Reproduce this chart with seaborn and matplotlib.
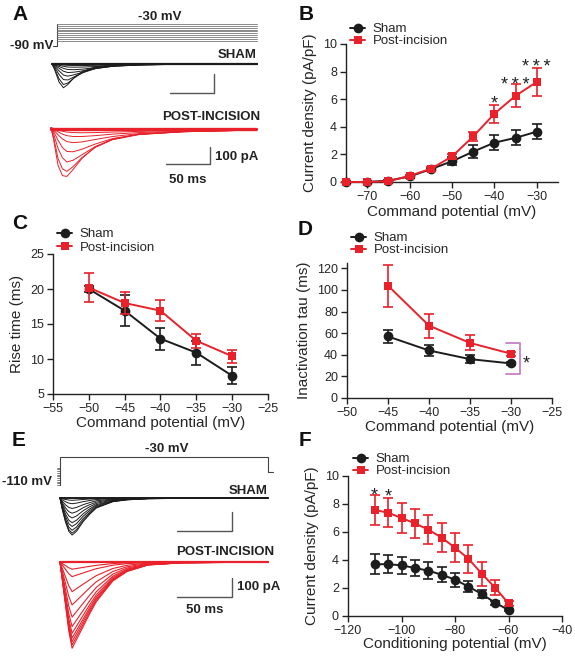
import numpy as np
import pandas as pd
import matplotlib
matplotlib.use("Agg")
import matplotlib.pyplot as plt
from matplotlib.lines import Line2D
import seaborn as sns

sns.set_theme(style="ticks")
plt.rcParams['font.family'] = ['Liberation Sans', 'DejaVu Sans']

BLACK = "#1c1c1c"
RED = "#e8212b"
GREY = "#555555"
THREE = "*\u2009*\u2009*"

# ---- B: current density vs command potential
cmd_b = [-75, -70, -65, -60, -55, -50, -45, -40, -35, -30]
sham_b = [0, 0, 0.1, 0.4, 0.93, 1.5, 2.2, 2.85, 3.2, 3.65]
sham_b_err = [0, 0, 0.05, 0.08, 0.12, 0.3, 0.45, 0.52, 0.55, 0.55]
post_b = [0, 0, 0.05, 0.45, 0.95, 1.85, 3.3, 4.95, 6.25, 7.25]
post_b_err = [0, 0, 0.04, 0.08, 0.12, 0.15, 0.35, 0.66, 0.85, 1.0]
stars_b = [(-40, 6.08, "*"), (-35, 7.44, THREE), (-30, 8.7, THREE)]

# ---- C: rise time
cmd_c = [-50, -45, -40, -35, -30]
sham_c = [20.0, 16.9, 12.9, 10.9, 7.6]
sham_c_err = [0.4, 2.2, 1.6, 1.7, 1.2]
post_c = [20.2, 18.0, 16.9, 12.6, 10.4]
post_c_err = [2.1, 1.6, 1.5, 1.0, 0.9]

# ---- D: inactivation tau
cmd_d = [-45, -40, -35, -30]
sham_d = [57, 44, 36, 32]
sham_d_err = [6.3, 5, 3.7, 1]
post_d = [104, 67, 51, 41]
post_d_err = [19.6, 11, 7, 2]
bracket_d = (-28.9, 22.5, 51)   # x, low, high
stars_d = [(-28.2, 36.5, "*")]

# ---- F: steady-state inactivation
cond_f = [-110, -105, -100, -95, -90, -85, -80, -75, -70, -65, -60]
sham_f = [3.7, 3.7, 3.62, 3.43, 3.24, 2.95, 2.6, 2.1, 1.57, 0.95, 0.43]
sham_f_err = [0.7, 0.65, 0.62, 0.6, 0.6, 0.55, 0.5, 0.42, 0.3, 0.15, 0.1]
post_f = [7.57, 7.38, 7.0, 6.62, 6.17, 5.6, 4.88, 4.1, 3.02, 2.02, 0.9]
post_f_err = [1.05, 1.05, 1.05, 1.05, 1.05, 1.05, 1.05, 1.0, 0.87, 0.55, 0.2]
stars_f = [(-110, 9.0, "*"), (-105, 8.9, "*")]

# ---- A: example traces (ms, pA), protocol (mV)
hold_a = -90
steps_a = [-75, -70, -65, -60, -55, -50, -45, -40, -35, -30]
step_len_a = 227
t_a = [0, 3, 8, 13, 18, 25, 35, 50, 70, 100, 150, 233]
sham_a_sweeps = [
    [0, -30, -95, -125, -108, -72, -38, -14, -5, -2, 0, 0],
    [0, -24, -78, -108, -100, -74, -44, -18, -7, -2, 0, 0],
    [0, -16, -55, -82, -84, -68, -46, -22, -9, -3, -1, 0],
    [0, -10, -36, -58, -64, -57, -43, -24, -11, -4, -1, 0],
    [0, -6, -22, -38, -45, -43, -36, -23, -12, -5, -1, 0],
    [0, -4, -13, -23, -29, -30, -27, -19, -11, -5, -1, 0],
    [0, -2, -7, -12, -16, -17, -16, -13, -8, -4, -1, 0],
    [0, -1, -3, -5, -7, -8, -8, -7, -5, -3, -1, 0],
]
post_a_sweeps = [
    [0, -70, -220, -280, -285, -245, -180, -112, -65, -36, -22, -12],
    [0, -55, -180, -240, -255, -228, -175, -115, -68, -38, -22, -12],
    [0, -35, -120, -175, -200, -190, -158, -110, -68, -38, -22, -12],
    [0, -20, -72, -115, -138, -140, -125, -95, -62, -37, -21, -12],
    [0, -12, -40, -64, -80, -86, -82, -68, -50, -33, -20, -11],
    [0, -7, -22, -36, -45, -50, -50, -45, -36, -27, -18, -10],
    [0, -4, -12, -19, -24, -27, -28, -27, -24, -20, -14, -9],
    [0, -2, -6, -9, -11, -13, -14, -14, -13, -12, -10, -7],
]

# ---- E: example traces, steady-state inactivation protocol
prepulse_e = [-110, -105, -100, -95, -90, -85, -80, -75, -70, -65, -60]
test_e = -30
after_e = -73
test_len_e = 189
t_e = [0, 2, 5, 8, 11, 15, 21, 27, 33, 48, 61, 80, 110, 189]
sham_e_shape = [0, -0.3, -0.65, -0.9, -1.0, -0.9, -0.64, -0.44, -0.27, -0.1, -0.05, -0.02, -0.01, 0]
sham_e_peaks = [195, 185, 170, 150, 130, 105, 80, 55, 30, 12]
post_e_shape = [0, -0.2, -0.5, -0.8, -1.0, -0.9, -0.75, -0.6, -0.46, -0.22, -0.11, -0.035, -0.01, 0]
post_e_peaks = [454, 437, 419, 400, 375, 340, 290, 226, 156, 77, 38]

W, H = 575, 659
fig = plt.figure(figsize=(W / 100, H / 100), dpi=100)


def px_box(l, t, r, b):
    return fig.add_axes([l / W, 1 - b / H, (r - l) / W, (b - t) / H])


def ftext(x, y, s, **kw):
    fig.text(x / W, 1 - y / H, s, **kw)


def trace_axes(xlim, ylim, x0, xs, y0, ys):
    l = x0 + xlim[0] * xs
    r = x0 + xlim[1] * xs
    b = y0 - ylim[0] * ys
    t = y0 - ylim[1] * ys
    ax = px_box(l, t, r, b)
    ax.set_xlim(xlim)
    ax.set_ylim(ylim)
    ax.axis("off")
    return ax


def iv_panel(ax, x, sham, sham_err, post, post_err):
    n = len(x)
    df = pd.DataFrame({"mV": list(x) * 2,
                       "val": list(sham) + list(post),
                       "group": ["Sham"] * n + ["Post-incision"] * n})
    sns.lineplot(data=df, x="mV", y="val", hue="group", style="group",
                 markers={"Sham": "o", "Post-incision": "s"}, dashes=False,
                 palette={"Sham": BLACK, "Post-incision": RED},
                 markersize=7, markeredgewidth=0, linewidth=1.4,
                 legend=False, ax=ax)
    for i, ln in enumerate(ax.lines):
        ln.set_zorder(3 + 2 * i)
        ln.set_clip_on(False)
    ax.lines[1].set_markersize(6.4)
    ax.errorbar(x, sham, yerr=sham_err, fmt="none", ecolor=BLACK, elinewidth=1.2,
                capsize=3.5, capthick=1.2, zorder=2, clip_on=False)
    ax.errorbar(x, post, yerr=post_err, fmt="none", ecolor=RED, elinewidth=1.2,
                capsize=3.5, capthick=1.2, zorder=4, clip_on=False)
    sns.despine(ax=ax)
    for s in ["left", "bottom"]:
        ax.spines[s].set_linewidth(1.0)
        ax.spines[s].set_color("#222222")
    ax.tick_params(labelsize=9, length=4, width=1, pad=2.5, color="#222222")
    ax.set_xlabel("")
    ax.set_ylabel("")


def add_legend(ax, x_px, y_px, spacing):
    handles = [Line2D([], [], color=BLACK, marker="o", ms=7, lw=1.4, mew=0),
               Line2D([], [], color=RED, marker="s", ms=6.4, lw=1.4, mew=0)]
    ax.legend(handles, ["Sham", "Post-incision"], loc="upper left",
              bbox_to_anchor=(x_px / W, 1 - y_px / H), bbox_transform=fig.transFigure,
              frameon=False, fontsize=9.5, handlelength=1.15, handletextpad=0.55,
              labelspacing=spacing, borderpad=0, borderaxespad=0)


def add_stars(ax, stars):
    for x, y, s in stars:
        ax.annotate(s, (x, y), xytext=(0, -0.57 * 13), textcoords="offset points",
                    ha="center", va="baseline", fontsize=13, color="#222222",
                    annotation_clip=False)


# ================= A =================
axv = trace_axes((-6, 230), (-95, -25), 57, 0.88, 13, 0.3667)
axv.plot([-5, 0, 0], [hold_a, hold_a, max(steps_a)], color="#444444", lw=0.8)
for v in steps_a:
    axv.plot([0, step_len_a], [v, v], color="#777777", lw=0.6)

ax_sa = trace_axes((-2, 236), (-165, 10), 52, 0.88, 64, 0.19)
for tr in sham_a_sweeps:
    ax_sa.plot(t_a, tr, color=BLACK, lw=0.7)
ax_sa.plot([t_a[0], t_a[-1]], [0, 0], color=BLACK, lw=1.6)
ax_sa.plot([134, 184, 184], [-152.6, -152.6, -52.6], color=GREY, lw=1)

ax_pa = trace_axes((-2, 236), (-320, 15), 51, 0.88, 128, 0.17)
for tr in post_a_sweeps:
    ax_pa.plot(t_a, tr, color=RED, lw=0.7)
ax_pa.plot([t_a[0], t_a[-1]], [-3, -3], color=RED, lw=2.4)
ax_pa.plot([130.7, 180.7, 180.7], [-211.8, -211.8, -111.8], color=GREY, lw=1)

bold = dict(fontsize=9.5, fontweight="bold", color="#222222")
ftext(160, 17, "-30 mV", ha="center", va="center", **bold)
ftext(53, 46, "-90 mV", ha="right", va="center", **bold)
ftext(257, 55, "SHAM", ha="right", va="center", **bold)
ftext(260, 117, "POST-INCISION", ha="right", va="center", **bold)
ftext(215, 157, "100 pA", ha="left", va="center", **bold)
ftext(188, 180, "50 ms", ha="center", va="center", **bold)

# ================= E =================
axve = trace_axes((-4, 196), (-115, -25), 60, 1.1, 446.5, 0.35)
for v in prepulse_e:
    axve.plot([-3, 0], [v, v], color="#666666", lw=0.6)
axve.plot([0, 0, test_len_e, test_len_e, test_len_e + 5],
          [min(prepulse_e), test_e, test_e, after_e, after_e], color="#444444", lw=0.8)

ax_se = trace_axes((-2, 192), (-210, 10), 60, 1.1, 498, 0.19)
for pk in sham_e_peaks:
    ax_se.plot(t_e, np.array(sham_e_shape) * pk, color=BLACK, lw=0.7)
ax_se.plot([t_e[0], t_e[-1]], [0, 0], color=BLACK, lw=1.4)
ax_se.plot([106.4, 156.4, 156.4], [-173.7, -173.7, -73.7], color=GREY, lw=1)

ax_pe = trace_axes((-2, 192), (-470, 10), 60, 1.1, 562, 0.19)
for pk in post_e_peaks:
    ax_pe.plot(t_e, np.array(post_e_shape) * pk, color=RED, lw=0.8)
ax_pe.plot([t_e[0], t_e[-1]], [0, 0], color=RED, lw=1.6)
ax_pe.plot([106.4, 156.4, 156.4], [-184.2, -184.2, -84.2], color=GREY, lw=1)

ftext(167, 449, "-30 mV", ha="center", va="center", **bold)
ftext(52, 482, "-110 mV", ha="right", va="center", **bold)
ftext(268, 491, "SHAM", ha="right", va="center", **bold)
ftext(274, 552, "POST-INCISION", ha="right", va="center", **bold)
ftext(237, 587, "100 pA", ha="left", va="center", **bold)
ftext(205, 610, "50 ms", ha="center", va="center", **bold)

# ================= B =================
axB = px_box(346, 44, 558, 182)
iv_panel(axB, cmd_b, sham_b, sham_b_err, post_b, post_b_err)
axB.set_xlim(-75, -25)
axB.set_ylim(0, 10)
axB.set_xticks([-70, -60, -50, -40, -30])
axB.set_yticks([0, 2, 4, 6, 8, 10])
axB.set_xlabel("Command potential (mV)", fontsize=11, labelpad=1.5)
axB.set_ylabel("Current density (pA/pF)", fontsize=11)
add_stars(axB, stars_b)
add_legend(axB, 350, 23, 0.0)

# ================= C =================
axC = px_box(53, 254, 268, 394)
iv_panel(axC, cmd_c, sham_c, sham_c_err, post_c, post_c_err)
axC.set_xlim(-55, -25)
axC.set_ylim(5, 25)
axC.set_xticks([-55, -50, -45, -40, -35, -30, -25])
axC.set_yticks([5, 10, 15, 20, 25])
axC.set_xlabel("Command potential (mV)", fontsize=11, labelpad=1)
axC.set_ylabel("Rise time (ms)", fontsize=11)
add_legend(axC, 57, 228, 0.1)

# ================= D =================
axD = px_box(347, 263, 552, 398)
iv_panel(axD, cmd_d, sham_d, sham_d_err, post_d, post_d_err)
axD.set_xlim(-50, -25)
axD.set_ylim(0, 125)
axD.set_xticks([-50, -45, -40, -35, -30, -25])
axD.set_yticks([0, 20, 40, 60, 80, 100, 120])
axD.set_xlabel("Command potential (mV)", fontsize=11, labelpad=1)
axD.set_ylabel("Inactivation tau (ms)", fontsize=11)
bx, blo, bhi = bracket_d
axD.plot([-30.6, bx, bx, -30.6], [bhi, bhi, blo, blo], color="#c77fc7", lw=1.3, clip_on=False)
add_stars(axD, stars_d)
add_legend(axD, 351, 232, 0.0)

# ================= F =================
axF = px_box(348, 476, 562, 616)
iv_panel(axF, cond_f, sham_f, sham_f_err, post_f, post_f_err)
axF.set_xlim(-120, -40)
axF.set_ylim(0, 10)
axF.set_xticks([-120, -100, -80, -60, -40])
axF.set_yticks([0, 2, 4, 6, 8, 10])
axF.set_xlabel("Conditioning potential (mV)", fontsize=11, labelpad=0)
axF.set_ylabel("Current density (pA/pF)", fontsize=11)
add_stars(axF, stars_f)
add_legend(axF, 353, 453, 0.0)

# panel letters
for lab, x, y in [("A", 20, 14), ("B", 306, 14), ("C", 20, 223),
                  ("D", 305, 229), ("E", 19, 440), ("F", 305, 440)]:
    ftext(x, y, lab, ha="center", va="center", fontsize=15, fontweight="bold", color="#111111")

fig.savefig("out.png", dpi=100)
